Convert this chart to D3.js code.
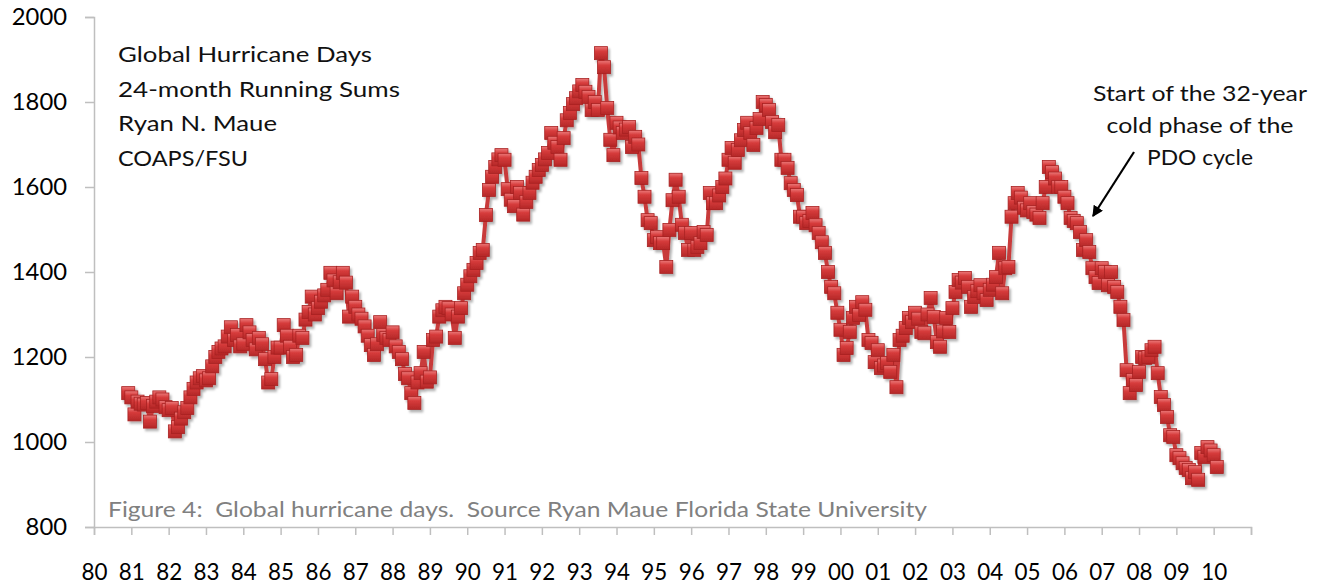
<!DOCTYPE html>
<html>
<head>
<meta charset="utf-8">
<script src="https://cdn.jsdelivr.net/npm/d3@7/dist/d3.min.js"></script>
<style>
  html, body { margin: 0; padding: 0; background: #fff; }
  #chart { width: 1324px; height: 587px; }
  text { font-family: Lato, "Noto Sans", sans-serif; white-space: pre; }
</style>
</head>
<body>
<div id="chart"></div>
<script>
// 24-month running sums of global hurricane days, monthly, Dec 1980 .. Feb 2010
const startYear = 1980 + 11 / 12;   // first point = Dec 1980

const values1980 = [1115];
const values1981 = [1105, 1065, 1095, 1090, 1088, 1092, 1048, 1085, 1095, 1105, 1100, 1082];
const values1982 = [1075, 1080, 1025, 1035, 1055, 1070, 1080, 1105, 1125, 1140, 1150, 1155];
const values1983 = [1145, 1150, 1178, 1200, 1212, 1220, 1225, 1248, 1270, 1240, 1252, 1225];
const values1984 = [1230, 1275, 1258, 1240, 1218, 1245, 1230, 1195, 1140, 1148, 1200, 1222];
const values1985 = [1222, 1275, 1250, 1224, 1200, 1205, 1250, 1245, 1288, 1306, 1342, 1300];
const values1986 = [1315, 1330, 1345, 1358, 1398, 1380, 1350, 1376, 1398, 1375, 1295, 1342];
const values1987 = [1318, 1300, 1290, 1272, 1250, 1228, 1205, 1230, 1282, 1252, 1245, 1240];
const values1988 = [1258, 1225, 1212, 1195, 1160, 1150, 1115, 1092, 1140, 1162, 1212, 1142];
const values1989 = [1152, 1240, 1248, 1295, 1310, 1318, 1315, 1300, 1245, 1295, 1315, 1350];
const values1990 = [1370, 1390, 1405, 1421, 1445, 1452, 1534, 1593, 1624, 1647, 1665, 1675];
const values1991 = [1664, 1595, 1570, 1555, 1600, 1586, 1535, 1565, 1586, 1610, 1624, 1640];
const values1992 = [1652, 1665, 1680, 1727, 1704, 1694, 1664, 1715, 1757, 1774, 1795, 1809];
const values1993 = [1825, 1840, 1824, 1812, 1781, 1800, 1781, 1915, 1882, 1786, 1711, 1675];
const values1994 = [1751, 1740, 1727, 1735, 1741, 1694, 1718, 1700, 1621, 1577, 1522, 1515];
const values1995 = [1475, 1482, 1468, 1468, 1412, 1499, 1569, 1617, 1577, 1511, 1492, 1452];
const values1996 = [1492, 1452, 1459, 1468, 1494, 1487, 1586, 1562, 1562, 1580, 1600, 1620];
const values1997 = [1664, 1692, 1657, 1687, 1710, 1734, 1751, 1727, 1699, 1739, 1760, 1800];
const values1998 = [1793, 1781, 1753, 1729, 1746, 1664, 1664, 1645, 1609, 1593, 1581, 1530];
const values1999 = [1530, 1515, 1520, 1539, 1510, 1492, 1470, 1445, 1400, 1365, 1350, 1304];
const values2000 = [1264, 1205, 1221, 1259, 1292, 1318, 1299, 1329, 1311, 1240, 1233, 1188];
const values2001 = [1216, 1174, 1180, 1186, 1165, 1205, 1129, 1240, 1250, 1268, 1292, 1282];
const values2002 = [1304, 1290, 1259, 1256, 1300, 1339, 1294, 1235, 1224, 1260, 1292, 1259];
const values2003 = [1315, 1353, 1381, 1375, 1386, 1365, 1318, 1341, 1355, 1369, 1350, 1334];
const values2004 = [1358, 1370, 1388, 1445, 1350, 1409, 1412, 1530, 1562, 1586, 1575, 1551];
const values2005 = [1545, 1562, 1541, 1535, 1527, 1562, 1600, 1647, 1635, 1620, 1600, 1600];
const values2006 = [1577, 1562, 1527, 1520, 1515, 1494, 1452, 1475, 1447, 1409, 1388, 1374];
const values2007 = [1409, 1400, 1369, 1400, 1365, 1353, 1318, 1287, 1169, 1115, 1146, 1134];
const values2008 = [1165, 1200, 1198, 1200, 1216, 1224, 1162, 1106, 1087, 1059, 1016, 1012];
const values2009 = [969, 962, 950, 939, 934, 915, 929, 911, 974, 965, 988, 980];
const values2010 = [969, 941];

const yTicks = [800, 1000, 1200, 1400, 1600, 1800, 2000];
const yearTicks = d3.range(1980, 2012);   // 1980 .. 2011 tick marks
const yearLabels = ["80","81","82","83","84","85","86","87","88","89","90","91","92","93","94","95",
                    "96","97","98","99","00","01","02","03","04","05","06","07","08","09","10"];

const titleLines = ["Global Hurricane Days", "24-month Running Sums", "Ryan N. Maue", "COAPS/FSU"];
const titleWidths = [254, 282, 159, 130];
const noteLines = ["Start of the 32-year", "cold phase of the", "PDO cycle"];
const noteWidths = [214, 187, 106];
const captionText = "Figure 4:  Global hurricane days.  Source Ryan Maue Florida State University";

const allValues = [].concat(values1980, values1981, values1982, values1983, values1984, values1985,
    values1986, values1987, values1988, values1989, values1990, values1991, values1992, values1993,
    values1994, values1995, values1996, values1997, values1998, values1999, values2000, values2001,
    values2002, values2003, values2004, values2005, values2006, values2007, values2008, values2009,
    values2010);
const series = allValues.map((v, i) => ({ t: startYear + i / 12, v: v }));

const width = 1324, height = 587;
const axisColor = "#bfbfbf";

const svg = d3.select("#chart").append("svg")
    .attr("width", width).attr("height", height);

const defs = svg.append("defs");
const grad = defs.append("linearGradient")
    .attr("id", "mk").attr("x1", 0).attr("y1", 0).attr("x2", 0).attr("y2", 1);
grad.append("stop").attr("offset", "0%").attr("stop-color", "#ec7a7a");
grad.append("stop").attr("offset", "35%").attr("stop-color", "#d63b3b");
grad.append("stop").attr("offset", "100%").attr("stop-color", "#b42828");

const shadow = defs.append("filter").attr("id", "shadow")
    .attr("x", "-20%").attr("y", "-20%").attr("width", "140%").attr("height", "140%");
shadow.append("feDropShadow")
    .attr("dx", 2).attr("dy", 2.5).attr("stdDeviation", 1.2)
    .attr("flood-color", "#000").attr("flood-opacity", 0.3);

defs.append("marker")
    .attr("id", "arrow").attr("viewBox", "0 0 10 10")
    .attr("refX", 9).attr("refY", 5)
    .attr("markerWidth", 5).attr("markerHeight", 5)
    .attr("orient", "auto")
  .append("path").attr("d", "M0,0 L10,5 L0,10 z").attr("fill", "#000");

const x = d3.scaleLinear().domain([1980, 2011]).range([94, 1251]);
const y = d3.scaleLinear().domain([800, 2000]).range([527, 17]);

// Y axis
const yAxis = svg.append("g")
    .attr("transform", "translate(94,0)")
    .call(d3.axisLeft(y).tickValues(yTicks).tickSize(9).tickPadding(18).tickFormat(d3.format("d")));
yAxis.select(".domain").attr("stroke", axisColor).attr("stroke-width", 1.5);
yAxis.selectAll(".tick line").attr("stroke", axisColor).attr("stroke-width", 1.5);
yAxis.selectAll(".tick text")
    .attr("fill", "#000").style("font-size", "24px")
    .attr("textLength", d => String(d).length * 13.8).attr("lengthAdjust", "spacingAndGlyphs")
    .style("font-family", "Lato, sans-serif");

// X axis
const xAxis = svg.append("g")
    .attr("transform", "translate(0,527)")
    .call(d3.axisBottom(x).tickValues(yearTicks).tickSize(8)
        .tickFormat(d => yearLabels[d - 1980] || ""));
xAxis.select(".domain").attr("stroke", axisColor).attr("stroke-width", 1.5);
xAxis.selectAll(".tick line").attr("stroke", axisColor).attr("stroke-width", 1.5);
xAxis.selectAll(".tick text")
    .attr("y", 53).attr("dy", 0)
    .attr("fill", "#000").style("font-size", "24px")
    .attr("textLength", d => yearLabels[d - 1980] ? 26 : null)
    .attr("lengthAdjust", "spacingAndGlyphs")
    .style("font-family", "Lato, sans-serif");

// Caption
svg.append("text")
    .attr("x", 108).attr("y", 517)
    .attr("fill", "#808080").style("font-size", "21px")
    .attr("textLength", 819).attr("lengthAdjust", "spacingAndGlyphs")
    .text(captionText);

// Title block
svg.append("g").selectAll("text")
    .data(titleLines).enter()
    .append("text")
    .attr("x", 118).attr("y", (d, i) => 62 + i * 34.5)
    .attr("fill", "#111").style("font-size", "21px")
    .attr("textLength", (d, i) => titleWidths[i]).attr("lengthAdjust", "spacingAndGlyphs")
    .text(d => d);

// Annotation
svg.append("g").selectAll("text")
    .data(noteLines).enter()
    .append("text")
    .attr("x", 1200).attr("y", (d, i) => 101 + i * 32)
    .attr("text-anchor", "middle")
    .attr("fill", "#111").style("font-size", "21px")
    .attr("textLength", (d, i) => noteWidths[i]).attr("lengthAdjust", "spacingAndGlyphs")
    .text(d => d);

svg.append("line")
    .attr("x1", 1134).attr("y1", 152).attr("x2", 1093).attr("y2", 216)
    .attr("stroke", "#000").attr("stroke-width", 2.2)
    .attr("marker-end", "url(#arrow)");

// Series
const plot = svg.append("g").attr("filter", "url(#shadow)");

plot.append("path")
    .datum(series)
    .attr("fill", "none")
    .attr("stroke", "#c83a3a")
    .attr("stroke-width", 4)
    .attr("stroke-linejoin", "round")
    .attr("d", d3.line().x(d => x(d.t)).y(d => y(d.v)));

const mk = 13;
plot.selectAll(".pt")
    .data(series).enter()
    .append("rect").attr("class", "pt")
    .attr("x", d => x(d.t) - mk / 2)
    .attr("y", d => y(d.v) - mk / 2)
    .attr("width", mk).attr("height", mk)
    .attr("fill", "url(#mk)")
    .attr("stroke", "#a82222").attr("stroke-width", 0.8);
</script>
</body>
</html>
